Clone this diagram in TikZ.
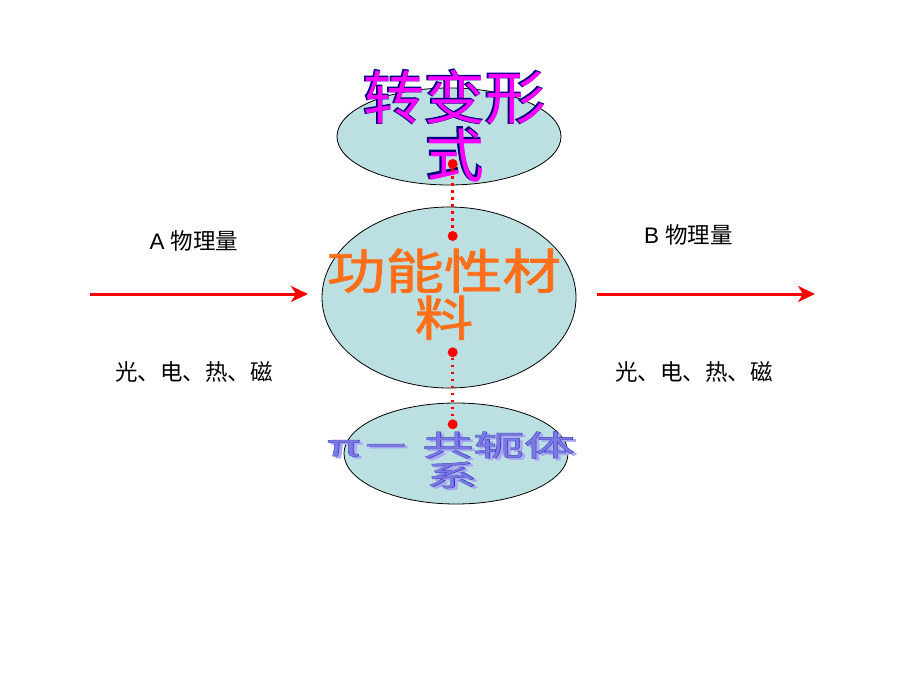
\documentclass[tikz,border=0pt]{standalone}
\usepackage{fontspec}
\setmainfont{Liberation Sans}
\newfontfamily\cjk{Noto Sans CJK SC}
\newfontfamily\cjkfat{Noto Sans CJK SC}[FakeBold=3]
\newfontfamily\cjkmid{Noto Sans CJK SC}[FakeBold=1.5]
\newfontfamily\cjkblue{Noto Sans CJK SC}[FakeBold=2]
\usetikzlibrary{shapes.geometric,arrows.meta}
\definecolor{ellfill}{HTML}{BCE0E2}
\definecolor{wordnavy}{HTML}{000080}
\definecolor{wordpink}{HTML}{FF00FF}
\definecolor{wordorange}{HTML}{FF6F1A}
\definecolor{wordblue}{HTML}{3838C8}
\definecolor{wordinner}{HTML}{7A7AE0}
\definecolor{wordshade}{HTML}{A8A8F2}
\begin{document}
\begin{tikzpicture}[x=1pt,y=-1pt,
  ell/.style={ellipse,draw=black,line width=0.8pt,fill=ellfill,inner sep=0pt},
  reddot/.style={circle,fill=red,inner sep=0pt,minimum size=10pt},
  link/.style={draw=red,line width=2.5pt,dash pattern=on 2.5pt off 4.5pt},
  flow/.style={draw=red,line width=3pt,-{Stealth[length=17pt,width=16pt,inset=5pt]}},
  side/.style={inner sep=0pt,anchor=base,font=\fontsize{22.5}{27}\selectfont},
  art/.style={inner sep=0pt,anchor=base}]
\useasboundingbox (0,0) rectangle (920,690);

% ellipses
\node[ell,minimum width=224pt,minimum height=97pt] (top) at (449,136.5) {};
\node[ell,minimum width=254pt,minimum height=181pt] (mid) at (449,297.5) {};
\node[ell,minimum width=224pt,minimum height=101pt] (bot) at (456,453.5) {};

% top word art
\node[art,text=wordnavy,font=\cjkfat\fontsize{58}{58}\selectfont] (t1s) at (453.5,118.5) {\scalebox{1.05}[1]{转变形}};
\node[art,text=wordpink,font=\cjk\fontsize{58}{58}\selectfont] (t1) at (455,120) {\scalebox{1.05}[1]{转变形}};
\node[art,text=wordnavy,font=\cjkfat\fontsize{58}{58}\selectfont] (t2s) at (453.5,175.5) {式};
\node[art,text=wordpink,font=\cjk\fontsize{58}{58}\selectfont] (t2) at (455,177) {式};

% middle word art
\node[art,text=wordorange,font=\cjkmid\fontsize{48}{48}\selectfont] (m1) at (444,289) {\scalebox{1.22}[1]{功能性材}};
\node[art,text=wordorange,font=\cjkmid\fontsize{48}{48}\selectfont] (m2) at (444,336) {\scalebox{1.22}[1]{料}};

% bottom word art
\node[art,text=wordshade,font=\cjkblue\fontsize{29}{29}\selectfont] (b1s) at (454,458) {\scalebox{1.75}[1]{π－ 共轭体}};
\node[art,text=wordblue,font=\cjkblue\fontsize{29}{29}\selectfont] (b1) at (451,456) {\scalebox{1.75}[1]{π－ 共轭体}};
\node[art,text=wordinner,font=\cjk\fontsize{29}{29}\selectfont] (b1i) at (451,456) {\scalebox{1.75}[1]{π－ 共轭体}};
\node[art,text=wordshade,font=\cjkblue\fontsize{29}{29}\selectfont] (b2s) at (455,488) {\scalebox{1.75}[1]{系}};
\node[art,text=wordblue,font=\cjkblue\fontsize{29}{29}\selectfont] (b2) at (452,486) {\scalebox{1.75}[1]{系}};
\node[art,text=wordinner,font=\cjk\fontsize{29}{29}\selectfont] (b2i) at (452,486) {\scalebox{1.75}[1]{系}};

% side labels
\node[side] (la) at (194,249.5) {A \cjk 物理量};
\node[side] (lb) at (194,380.5) {\cjk 光、电、热、磁};
\node[side] (ra) at (688.5,243.5) {B \cjk 物理量};
\node[side] (rb) at (694,380.5) {\cjk 光、电、热、磁};

% arrows
\coordinate (ls) at (90,294);
\coordinate (le) at (308,294);
\coordinate (rs) at (597,294);
\coordinate (re) at (815,294);
\draw[flow] (ls) -- (le);
\draw[flow] (rs) -- (re);

% dots and dotted links
\node[reddot] (d1) at (452.7,164) {};
\node[reddot] (d2) at (452.7,236) {};
\node[reddot] (d3) at (452.7,352.3) {};
\node[reddot] (d4) at (452.7,424.3) {};
\draw[link] (d1) -- (d2);
\draw[link] (d3) -- (d4);
\end{tikzpicture}
\end{document}
